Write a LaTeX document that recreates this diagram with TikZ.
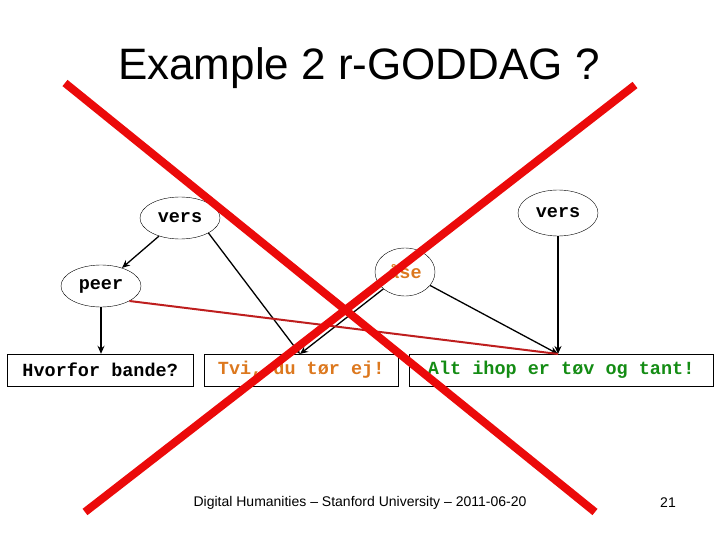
\documentclass[tikz,border=0pt]{standalone}
\usepackage{fontspec}
\setmainfont{Liberation Sans}
\setmonofont{Liberation Mono}
\usetikzlibrary{shapes.geometric,arrows.meta}
\definecolor{orn}{RGB}{220,120,30}
\definecolor{grn}{RGB}{20,140,20}
\definecolor{xred}{RGB}{235,10,10}
\definecolor{dred}{RGB}{190,30,30}
\begin{document}
\begin{tikzpicture}[x=1pt,y=-1pt,
 el/.style={draw,ellipse,inner sep=0pt,font=\ttfamily\bfseries\fontsize{18.5}{18.5}\selectfont},
 bx/.style={draw,rectangle,minimum height=32pt,inner sep=0pt,anchor=west,font=\ttfamily\bfseries\fontsize{18.5}{18.5}\selectfont},
 ar/.style={-{Stealth[length=8pt,width=7pt]},line width=1.3pt}]
\useasboundingbox (0,0) rectangle (720,540);
\node[font=\fontsize{44}{44}\selectfont] (title) at (359,68) {Example 2 r-GODDAG ?};
\node[el,minimum width=80pt,minimum height=42pt] (v1) at (180,218) {vers};
\node[el,minimum width=80pt,minimum height=46pt] (v2) at (558,213) {vers};
\node[el,minimum width=80pt,minimum height=42pt] (peer) at (101,286) {peer};
\node[el,minimum width=60pt,minimum height=48pt,text=orn] (ase) at (405,272) {åse};
\node[bx,minimum width=186pt] (h) at (7,370) {Hvorfor bande?};
\node[bx,minimum width=194pt,text=orn] (t) at (204,370) {Tvi, du tør ej!};
\node[bx,minimum width=304pt,text=grn] (a) at (409,370) {Alt ihop er tøv og tant!};
\coordinate (tt) at (300,354);
\coordinate (at) at (558,354);
\draw[ar] (v1) -- (peer);
\draw[ar] (peer.south) -- (h.north -| peer.south);
\draw[ar] (v1.south east) -- (tt);
\draw[ar] (ase) -- (tt);
\draw[ar] (ase) -- (at);
\draw[ar] (v2.south) -- (at);
\draw[dred,line width=2pt] (peer.south east) -- (at);
\coordinate (x1) at (65,83); \coordinate (x2) at (595,512);
\coordinate (x3) at (635,85); \coordinate (x4) at (85,512);
\draw[xred,line width=8pt] (x1) -- (x2);
\draw[xred,line width=8pt] (x3) -- (x4);
\node[font=\fontsize{14}{14}\selectfont] (foot) at (360,503) {Digital Humanities -- Stanford University -- 2011-06-20};
\node[font=\fontsize{14}{14}\selectfont] (num) at (668,503) {21};
\end{tikzpicture}
\end{document}
